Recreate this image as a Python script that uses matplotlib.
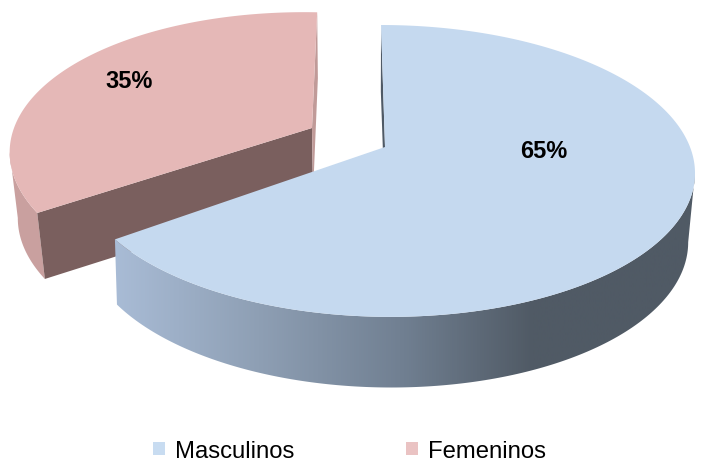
import numpy as np
import matplotlib
matplotlib.use("Agg")
import matplotlib.pyplot as plt
from matplotlib.patches import Polygon, Patch
from matplotlib.colors import LinearSegmentedColormap

categories = ["Masculinos", "Femeninos"]
shares = [65, 35]
share_labels = ["65%", "35%"]

plt.rcParams['font.family'] = ['Liberation Sans', 'DejaVu Sans']

fig = plt.figure(figsize=(7.05, 4.77), dpi=100)
ax = fig.add_axes([0, 0, 1, 1])
ax.set_xlim(0, 705)
ax.set_ylim(477, 0)
ax.axis("off")


def disk(theta_deg, apex, rx, ry, k, skew):
    t = np.radians(theta_deg)
    u, v = np.sin(t), np.cos(t)
    w = 1 + k * v
    return np.column_stack([apex[0] + (rx * u + skew * v) / w, apex[1] - ry * v / w])


total = sum(shares)
sweep_m = 360 * shares[0] / total
sweep_f = 360 * shares[1] / total

# top and bottom discs: apex, radii, perspective, skew
M_TOP = dict(apex=(385, 148), rx=305, ry=142, k=0.164, skew=-4.6)
M_BOT = dict(apex=(385, 211), rx=296, ry=142, k=0.20, skew=-5)
F_TOP = dict(apex=(312, 129), rx=298, ry=139, k=0.20, skew=-9.4)
F_BOT = dict(apex=(313, 195), rx=291, ry=139, k=0.20, skew=-9.4)

# ---- Femeninos
f0, f1 = sweep_m + 3, sweep_m + 3 + sweep_f
th = np.linspace(f0, f1, 200)
ft, fb = disk(th, **F_TOP), disk(th, **F_BOT)
i_left = np.argmin(ft[:, 0])
j_left = np.argmin(fb[:, 0])
ax.add_patch(Polygon(np.vstack([ft[:i_left + 1][::-1], fb[:j_left + 1]]),
                     fc="#C9A09F", ec="none", zorder=1))
ax.add_patch(Polygon(np.array([ft[0], F_TOP['apex'], F_BOT['apex'], fb[0]]),
                     fc="#7A5F5E", ec="none", zorder=2))
ax.add_patch(Polygon(np.array([ft[-1], fb[-1], F_BOT['apex'], F_TOP['apex']]),
                     fc="#C09A98", ec="none", zorder=2))
ax.add_patch(Polygon(np.vstack([F_TOP['apex'], ft]), fc="#E5B8B7", ec="none", zorder=3))

# ---- Masculinos
th = np.linspace(0, sweep_m, 300)
mt, mb = disk(th, **M_TOP), disk(th, **M_BOT)
i_right = np.argmax(mt[:, 0])
j_right = np.argmax(mb[:, 0])
side = Polygon(np.vstack([mt[i_right:], mb[j_right:][::-1]]), fc="none", ec="none", zorder=4)
ax.add_patch(side)
cmap = LinearSegmentedColormap.from_list("side", [(0, "#A9BCD6"), (0.25, "#8E9FB4"),
                                                  (0.5, "#707F91"), (0.72, "#505A65"),
                                                  (1, "#505A65")])
grad = np.linspace(0, 1, 512)[None, :]
im = ax.imshow(grad, extent=(113, 696, 477, 0), cmap=cmap, aspect="auto", zorder=4)
im.set_clip_path(side)
ax.set_xlim(0, 705)
ax.set_ylim(477, 0)
ax.add_patch(Polygon(np.array([mt[0], mb[0], M_BOT['apex'], M_TOP['apex']]),
                     fc="#4F5A66", ec="none", zorder=3.5))
ax.add_patch(Polygon(np.vstack([M_TOP['apex'], mt]), fc="#C5D9EF", ec="none", zorder=5))

# ---- Labels
ax.text(543.5, 151.5, share_labels[0], fontsize=17, fontweight="bold", ha="center", va="center", color="black", zorder=6)
ax.text(129.5, 82, share_labels[1], fontsize=17, fontweight="bold", ha="center", va="center", color="black", zorder=6)

handles = [Patch(fc="#C8DCF1", ec="none"), Patch(fc="#EAC3C3", ec="none")]
ax.legend(handles, categories, loc="center", bbox_to_anchor=(349.5, 452),
          bbox_transform=ax.transData, ncol=2, frameon=False, fontsize=17.2,
          handlelength=0.5, handleheight=0.5, handletextpad=0.42, columnspacing=4.65,
          borderpad=0, borderaxespad=0)

fig.savefig("out.png", dpi=100)
